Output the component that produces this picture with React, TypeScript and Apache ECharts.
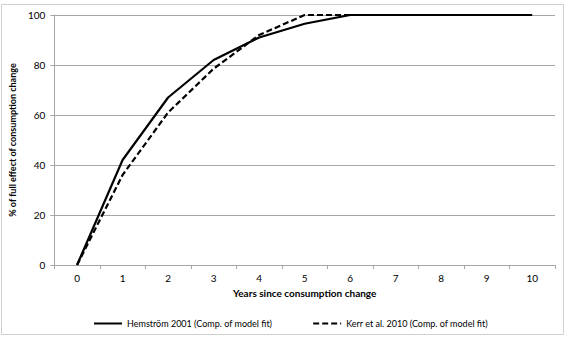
import React, { useEffect, useRef } from "react";
import * as echarts from "echarts";

const years = ["0", "1", "2", "3", "4", "5", "6", "7", "8", "9", "10"];
const hemstrom = [0, 42, 67, 82, 91, 96.5, 100, 100, 100, 100, 100];
const kerr = [0, 36, 61, 78.5, 92, 100, 100, 100, 100, 100, 100];
const seriesNames = ["Hemström 2001 (Comp. of model fit)", "Kerr et al. 2010 (Comp. of model fit)"];

export default function App() {
  const ref = useRef<HTMLDivElement>(null);
  useEffect(() => {
    const chart = echarts.init(ref.current!, null, { renderer: "svg" });
    const font = "Lato, Open Sans, sans-serif";
    chart.setOption({
      animation: false,
      textStyle: { fontFamily: font },
      grid: { left: 53, right: 20, top: 15, bottom: 73 },
      legend: {
        data: seriesNames,
        top: 314,
        left: 88,
        itemWidth: 28,
        itemHeight: 10,
        itemGap: 40,
        itemStyle: { opacity: 0 },
        textStyle: { fontSize: 9, color: "#000", fontFamily: font },
      },
      xAxis: {
        type: "category",
        data: years,
        boundaryGap: true,
        name: "Years since consumption change",
        nameLocation: "middle",
        nameGap: 23,
        nameTextStyle: { fontWeight: "bold", fontSize: 10, color: "#000" },
        axisLine: { lineStyle: { color: "#a6a6a6" } },
        axisTick: { show: true, length: 4, lineStyle: { color: "#a6a6a6" } },
        axisLabel: { fontSize: 10, color: "#000", margin: 8 },
      },
      yAxis: {
        type: "value",
        min: 0,
        max: 100,
        interval: 20,
        name: "% of full effect of consumption change",
        nameLocation: "middle",
        nameGap: 22,
        nameRotate: 90,
        nameTextStyle: { fontWeight: "bold", fontSize: 9, color: "#000" },
        axisLine: { show: true, lineStyle: { color: "#a6a6a6" } },
        axisTick: { show: true, length: 4, lineStyle: { color: "#a6a6a6" } },
        axisLabel: { fontSize: 10, color: "#000", margin: 9 },
        splitLine: { lineStyle: { color: "#a6a6a6" } },
      },
      series: [
        {
          name: seriesNames[0],
          type: "line",
          data: hemstrom,
          symbol: "none",
          lineStyle: { color: "#000", width: 2.2 },
          itemStyle: { color: "#000" },
        },
        {
          name: seriesNames[1],
          type: "line",
          data: kerr,
          symbol: "none",
          lineStyle: { color: "#000", width: 2.2, type: [6, 3] },
          itemStyle: { color: "#000" },
        },
      ],
      graphic: [
        {
          type: "rect",
          shape: { x: 1.5, y: 4.5, width: 562, height: 330 },
          style: { fill: "none", stroke: "#d0d0d0", lineWidth: 1 },
          silent: true,
          z: -1,
        },
      ],
    });
    return () => chart.dispose();
  }, []);
  return (
    <div
      ref={ref}
      style={{ position: "absolute", left: 0, top: 0, width: 575, height: 338 }}
    />
  );
}
